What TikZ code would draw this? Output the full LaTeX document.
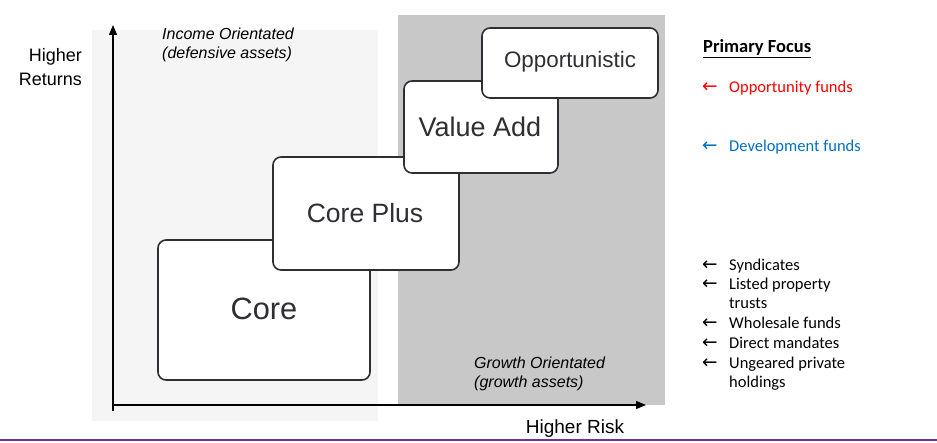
\documentclass[tikz,border=0pt]{standalone}
\usepackage{fontspec}
\setmainfont{Liberation Sans}
\newfontfamily\carlitofont{Carlito}
\newfontfamily\dejavufont{DejaVu Sans}
\usetikzlibrary{arrows.meta}
\definecolor{lightbg}{HTML}{F5F5F5}
\definecolor{darkbg}{HTML}{C8C8C8}
\definecolor{boxline}{HTML}{2E2E33}
\definecolor{oppred}{HTML}{FF0000}
\definecolor{devblue}{HTML}{0070C0}
\definecolor{purpleline}{HTML}{7030A0}
\tikzset{
  stagebox/.style={draw=boxline, line width=1.6pt, fill=white, rounded corners=8pt},
  axis/.style={line width=1.2pt, -{Triangle[length=10pt,width=8pt]}},
  rlabel/.style={font=\carlitofont\fontsize{16.5}{19.5}\selectfont, anchor=base west, inner sep=0pt},
  arr/.style={font=\dejavufont\fontsize{18.5}{19}\selectfont, anchor=base west, inner sep=0pt},
}
\begin{document}
\begin{tikzpicture}[x=1pt,y=-1pt]
\useasboundingbox (0,0) rectangle (937,443);
% backgrounds
\fill[lightbg] (92,30) rectangle (378,421);
\fill[darkbg] (398,15) rectangle (665,405);
% axes
\coordinate (o) at (113,405);
\coordinate (ytop) at (113,25);
\coordinate (xend) at (646,405);
\coordinate (ybot) at (113,411);
\draw[line width=1.2pt] (ybot) -- (o);
\draw[axis] (o) -- (ytop);
\draw[axis] (o) -- (xend);
% boxes
\draw[stagebox] (158,240) rectangle (370,380);
\node (core) at (264,309) {\fontsize{30.8}{30.8}\selectfont\color{boxline}Core};
\draw[stagebox] (273,157) rectangle (459,270);
\node (coreplus) at (365,213) {\fontsize{26.5}{26.5}\selectfont\color{boxline}Core Plus};
\draw[stagebox] (404,81) rectangle (558,173);
\node (valueadd) at (480,127) {\fontsize{27}{27}\selectfont\color{boxline}Value Add};
\draw[stagebox] (482,28) rectangle (658,98);
\node (opp) at (570,62) {\fontsize{22.4}{22.4}\selectfont\color{boxline}Opportunistic};
% axis labels
\node[anchor=east, align=right, inner sep=0pt, font=\fontsize{18}{23.5}\selectfont] (hr) at (82,67) {Higher\\Returns};
\node[anchor=center, inner sep=0pt, font=\fontsize{19}{20}\selectfont] (hrisk) at (575,429) {Higher Risk};
\node[anchor=west, align=left, inner sep=0pt, font=\itshape\fontsize{16}{18.5}\selectfont] (inc) at (162,45) {Income Orientated\\(defensive assets)};
\node[anchor=west, align=left, inner sep=0pt, font=\itshape\fontsize{16}{18.5}\selectfont] (gro) at (474,374) {Growth Orientated\\(growth assets)};
% right side
\node[rlabel, font=\carlitofont\bfseries\fontsize{18.5}{19}\selectfont] (pf) at (703,53) {\underline{Primary Focus}};
\node[arr, text=oppred] (a1) at (702,93) {←};
\node[rlabel, text=oppred] (t1) at (729,93) {Opportunity funds};
\node[arr, text=devblue] (a2) at (702,152) {←};
\node[rlabel, text=devblue] (t2) at (729,152) {Development funds};
\node[arr] (a3) at (702,271) {←};
\node[rlabel] (t3) at (729,271) {Syndicates};
\node[arr] (a4) at (702,290) {←};
\node[rlabel] (t4) at (729,290) {Listed property};
\node[rlabel] (t4b) at (729,309) {trusts};
\node[arr] (a5) at (702,329) {←};
\node[rlabel] (t5) at (729,329) {Wholesale funds};
\node[arr] (a6) at (702,349) {←};
\node[rlabel] (t6) at (729,349) {Direct mandates};
\node[arr] (a7) at (702,369) {←};
\node[rlabel] (t7) at (729,369) {Ungeared private};
\node[rlabel] (t7b) at (729,388) {holdings};
% bottom line
\coordinate (bl) at (0,440);
\coordinate (br) at (937,440);
\draw[purpleline, line width=1.5pt] (bl) -- (br);
\end{tikzpicture}
\end{document}
